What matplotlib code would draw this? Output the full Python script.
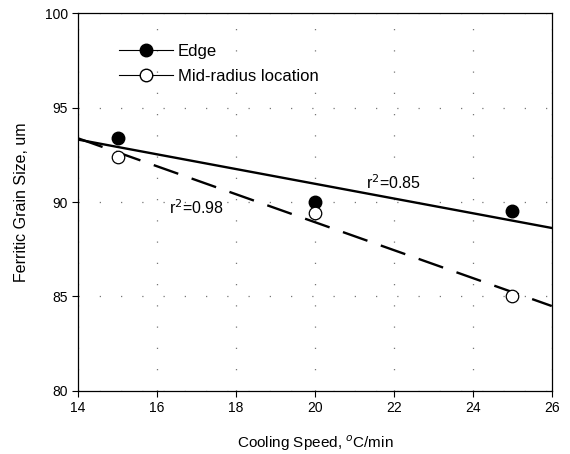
import matplotlib
matplotlib.use("Agg")
import matplotlib.pyplot as plt
from matplotlib.lines import Line2D
import numpy as np

plt.rcParams['font.family'] = ['Liberation Sans', 'DejaVu Sans']

# cooling speed, C/min
speed = [15, 20, 25]
edge = [93.4, 90.0, 89.5]
mid = [92.4, 89.4, 85.0]
r2_edge = "r$^2$=0.85"
r2_mid = "r$^2$=0.98"

fig = plt.figure(figsize=(5.7, 4.54), dpi=100)
ax = fig.add_axes([0.137, 0.139, 0.831, 0.832])

# linear fits
xs = np.array([14, 26])
k1, b1 = np.polyfit(speed, edge, 1)
k2, b2 = np.polyfit(speed, mid, 1)
ax.plot(xs, k1 * xs + b1, color='black', lw=1.7, zorder=2)
ax.plot(xs, k2 * xs + b2, color='black', lw=1.7, dashes=(11, 6), zorder=2)

ax.plot(speed, edge, 'o', ms=9, mfc='black', mec='black', zorder=3)
ax.plot(speed, mid, 'o', ms=9, mfc='white', mec='black', mew=0.9, zorder=3)

ax.text(21.3, 91.0, r2_edge, fontsize=11.5, va='center')
ax.text(16.3, 89.7, r2_mid, fontsize=11.5, va='center')

ax.set_xlim(14, 26)
ax.set_ylim(80, 100)
ax.set_xticks(range(14, 27, 2))
ax.set_yticks(range(80, 101, 5))
ax.grid(True, color='#777777', linestyle=(0, (1, 16)), lw=0.9)
ax.tick_params(direction='out', length=4, width=0.8, labelsize=10)
for s in ax.spines.values():
    s.set_linewidth(0.9)

ax.set_xlabel('Cooling Speed, $^o$C/min', fontsize=11, labelpad=13)
ax.set_ylabel('Ferritic Grain Size, um', fontsize=11.5, labelpad=11)

handles = [
    Line2D([], [], color='black', lw=0.8, marker='o', ms=9, mfc='black', mec='black'),
    Line2D([], [], color='black', lw=0.8, marker='o', ms=9, mfc='white', mec='black'),
]
ax.legend(handles, ['Edge', 'Mid-radius location'], loc='upper left',
          bbox_to_anchor=(0.087, 0.918), frameon=False, fontsize=12,
          borderaxespad=0, borderpad=0,
          handlelength=3.2, handletextpad=0.3, labelspacing=0.6)

fig.savefig('out.png', dpi=100)
